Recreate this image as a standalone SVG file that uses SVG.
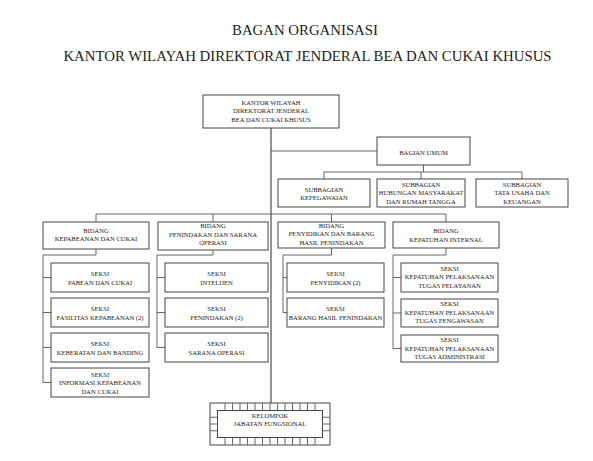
<svg xmlns="http://www.w3.org/2000/svg" width="593" height="461" viewBox="0 0 593 461">
<style>
.box{fill:#fff;stroke:#444;stroke-width:1}
.ln{fill:none;stroke:#666;stroke-width:1}
.main{fill:none;stroke:#888;stroke-width:1.8}
.t{font-family:"Liberation Serif","Times New Roman",serif;font-size:6.6px;fill:#222;text-anchor:middle}
.title{font-family:"Liberation Serif","Times New Roman",serif;font-size:14.8px;fill:#222;text-anchor:middle}
</style>
<rect width="593" height="461" fill="#fff"/>
<text class="title" x="305" y="35">BAGAN ORGANISASI</text>
<text class="title" x="307.5" y="61">KANTOR WILAYAH DIREKTORAT JENDERAL BEA DAN CUKAI KHUSUS</text>

<g id="connectors">
<path class="main" d="M271,128V403"/>
<path class="ln" d="M271,151H377"/>
<path class="ln" d="M423.5,165V172M324,172H522M324,172V179M421,172V179M522,172V179"/>
<path class="ln" d="M96,214H446M96,214V222M213,214V222M331.5,214V222M446,214V222"/>
<path class="ln" d="M96,249V255H43V382.5H51M43,277.5H51M43,312.5H51M43,347.5H51"/>
<path class="ln" d="M213,250V255H157V347.5H165M157,277.5H165M157,312.5H165"/>
<path class="ln" d="M331.5,248V255H283V312.5H287M283,277.5H287"/>
<path class="ln" d="M446,248V255H393V348.5H401M393,277.5H401M393,313H401"/>
</g>

<g id="kanwil"><rect class="box" x="203" y="95" width="136" height="33"/>
<text class="t" x="271" y="104.5">KANTOR WILAYAH</text>
<text class="t" x="271" y="113">DIREKTORAT JENDERAL</text>
<text class="t" x="271" y="121.5">BEA DAN CUKAI KHUSUS</text></g>

<g id="bagian-umum"><rect class="box" x="377" y="137" width="93" height="28"/>
<text class="t" x="423.5" y="155">BAGIAN UMUM</text></g>

<g id="sub-kepegawaian"><rect class="box" x="278" y="179" width="92" height="28"/>
<text class="t" x="324" y="191.5">SUBBAGIAN</text>
<text class="t" x="324" y="200">KEPEGAWAIAN</text></g>
<g id="sub-humas"><rect class="box" x="377" y="179" width="88" height="28"/>
<text class="t" x="421" y="186.5">SUBBAGIAN</text>
<text class="t" x="421" y="195">HUBUNGAN MASYARAKAT</text>
<text class="t" x="421" y="203.5">DAN RUMAH TANGGA</text></g>
<g id="sub-tu"><rect class="box" x="476" y="179" width="92" height="28"/>
<text class="t" x="522" y="186.5">SUBBAGIAN</text>
<text class="t" x="522" y="195">TATA USAHA DAN</text>
<text class="t" x="522" y="203.5">KEUANGAN</text></g>

<g id="bidang-kepabeanan"><rect class="box" x="43" y="222" width="106" height="27"/>
<text class="t" x="96" y="232.5">BIDANG</text>
<text class="t" x="96" y="241">KEPABEANAN DAN CUKAI</text></g>
<g id="bidang-penindakan"><rect class="box" x="158" y="222" width="110" height="28"/>
<text class="t" x="213" y="227.5">BIDANG</text>
<text class="t" x="213" y="236.5">PENINDAKAN DAN SARANA</text>
<text class="t" x="213" y="245">OPERASI</text></g>
<g id="bidang-penyidikan"><rect class="box" x="278" y="222" width="107" height="26"/>
<text class="t" x="331.5" y="227.5">BIDANG</text>
<text class="t" x="331.5" y="236">PENYIDIKAN DAN BARANG</text>
<text class="t" x="331.5" y="244.5">HASIL PENINDAKAN</text></g>
<g id="bidang-kepatuhan"><rect class="box" x="393" y="222" width="106" height="26"/>
<text class="t" x="446" y="233">BIDANG</text>
<text class="t" x="446" y="241.5">KEPATUHAN INTERNAL</text></g>

<g id="seksi-pabean"><rect class="box" x="51" y="263" width="98" height="29"/>
<text class="t" x="100" y="275.5">SEKSI</text><text class="t" x="100" y="284.5">PABEAN DAN CUKAI</text></g>
<g id="seksi-fasilitas"><rect class="box" x="51" y="298" width="98" height="29"/>
<text class="t" x="100" y="310.5">SEKSI</text><text class="t" x="100" y="319.5">FASILITAS KEPABEANAN (2)</text></g>
<g id="seksi-keberatan"><rect class="box" x="51" y="333" width="98" height="29"/>
<text class="t" x="100" y="345.5">SEKSI</text><text class="t" x="100" y="354.5">KEBERATAN DAN BANDING</text></g>
<g id="seksi-informasi"><rect class="box" x="51" y="368" width="98" height="29"/>
<text class="t" x="100" y="376.5">SEKSI</text><text class="t" x="100" y="385">INFORMASI KEPABEANAN</text><text class="t" x="100" y="393.5">DAN CUKAI</text></g>

<g id="seksi-intelijen"><rect class="box" x="165" y="263" width="103" height="29"/>
<text class="t" x="216.5" y="275.5">SEKSI</text><text class="t" x="216.5" y="284.5">INTELIJEN</text></g>
<g id="seksi-penindakan"><rect class="box" x="165" y="298" width="103" height="29"/>
<text class="t" x="216.5" y="310.5">SEKSI</text><text class="t" x="216.5" y="319.5">PENINDAKAN (2)</text></g>
<g id="seksi-sarana"><rect class="box" x="165" y="333" width="103" height="29"/>
<text class="t" x="216.5" y="345.5">SEKSI</text><text class="t" x="216.5" y="354.5">SARANA OPERASI</text></g>

<g id="seksi-penyidikan"><rect class="box" x="287" y="263" width="97" height="29"/>
<text class="t" x="335.5" y="275.5">SEKSI</text><text class="t" x="335.5" y="284.5">PENYIDIKAN (2)</text></g>
<g id="seksi-bhp"><rect class="box" x="287" y="298" width="97" height="29"/>
<text class="t" x="335.5" y="310.5">SEKSI</text><text class="t" x="335.5" y="319.5">BARANG HASIL PENINDAKAN</text></g>

<g id="seksi-kp-pelayanan"><rect class="box" x="401" y="263" width="97" height="29"/>
<text class="t" x="449.5" y="270.5">SEKSI</text><text class="t" x="449.5" y="279">KEPATUHAN PELAKSANAAN</text><text class="t" x="449.5" y="287.5">TUGAS PELAYANAN</text></g>
<g id="seksi-kp-pengawasan"><rect class="box" x="401" y="299" width="97" height="28"/>
<text class="t" x="449.5" y="306">SEKSI</text><text class="t" x="449.5" y="314.5">KEPATUHAN PELAKSANAAN</text><text class="t" x="449.5" y="323">TUGAS PENGAWASAN</text></g>
<g id="seksi-kp-administrasi"><rect class="box" x="401" y="335" width="97" height="27"/>
<text class="t" x="449.5" y="342">SEKSI</text><text class="t" x="449.5" y="350.5">KEPATUHAN PELAKSANAAN</text><text class="t" x="449.5" y="359">TUGAS ADMINISTRASI</text></g>

<g id="kelompok-jf">
<rect class="box" x="210" y="403" width="120" height="42"/>
<rect class="box" x="217.5" y="410.5" width="105" height="27"/>
<path class="ln" stroke="#444" d="M225,403V410.5M232.5,403V410.5M240,403V410.5M247.5,403V410.5M255,403V410.5M262.5,403V410.5M270,403V410.5M277.5,403V410.5M285,403V410.5M292.5,403V410.5M300,403V410.5M307.5,403V410.5M315,403V410.5
M225,437.5V445M232.5,437.5V445M240,437.5V445M247.5,437.5V445M255,437.5V445M262.5,437.5V445M270,437.5V445M277.5,437.5V445M285,437.5V445M292.5,437.5V445M300,437.5V445M307.5,437.5V445M315,437.5V445
M210,417.25H217.5M210,424H217.5M210,430.75H217.5M322.5,417.25H330M322.5,424H330M322.5,430.75H330"/>
<text class="t" x="270" y="418">KELOMPOK</text>
<text class="t" x="270" y="426">JABATAN FUNGSIONAL</text>
</g>
</svg>
